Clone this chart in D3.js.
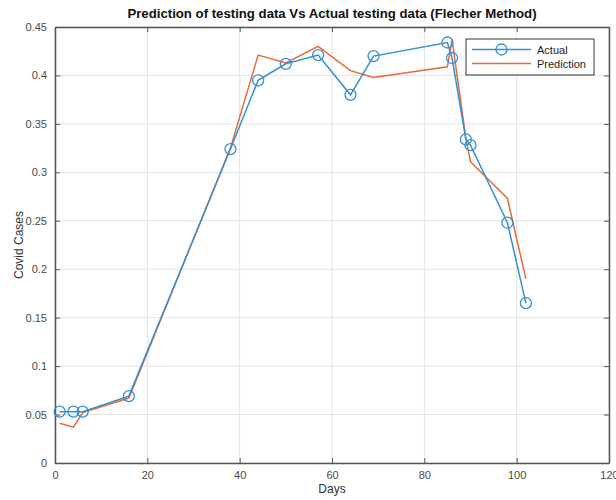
<!DOCTYPE html>
<html>
<head>
<meta charset="utf-8">
<script src="https://cdn.jsdelivr.net/npm/d3@7"></script>
<style>
  body { margin: 0; background: #fff; }
  svg { font-family: "Liberation Sans", Arial, Helvetica, sans-serif; }
  .grid line { stroke: #e3e3e3; stroke-width: 1; }
  .axis text { fill: #4a4a4a; font-size: 11px; }
  .axis path, .axis line { stroke: #555; }
</style>
</head>
<body>
<div id="chart"></div>
<script>
// data
const days = [1, 4, 6, 16, 38, 44, 50, 57, 64, 69, 85, 86, 89, 90, 98, 102];
const actual = [0.053, 0.053, 0.053, 0.069, 0.324, 0.395, 0.412, 0.421, 0.380, 0.420, 0.434, 0.418, 0.334, 0.328, 0.248, 0.165];
const prediction = [0.041, 0.037, 0.052, 0.067, 0.325, 0.421, 0.413, 0.430, 0.405, 0.398, 0.409, 0.437, 0.335, 0.311, 0.273, 0.190];
const xTicks = [0, 20, 40, 60, 80, 100, 120];
const yTicks = [0, 0.05, 0.1, 0.15, 0.2, 0.25, 0.3, 0.35, 0.4, 0.45];

const blue = "#3590d3", orange = "#e8693a";

const W = 616, H = 500;
const margin = { top: 27, right: 7, bottom: 37, left: 55 };
const width = W - margin.left - margin.right;
const height = H - margin.top - margin.bottom;

const svg = d3.select("#chart").append("svg")
    .attr("width", W)
    .attr("height", H);

const g = svg.append("g")
    .attr("transform", `translate(${margin.left},${margin.top})`);

const x = d3.scaleLinear().domain([0, 120]).range([0, width]);
const y = d3.scaleLinear().domain([0, 0.45]).range([height, 0]);

// Grid
g.append("g").attr("class", "grid")
    .selectAll("line.v").data(xTicks).join("line")
    .attr("x1", d => x(d)).attr("x2", d => x(d))
    .attr("y1", 0).attr("y2", height);
g.append("g").attr("class", "grid")
    .selectAll("line.h").data(yTicks).join("line")
    .attr("x1", 0).attr("x2", width)
    .attr("y1", d => y(d)).attr("y2", d => y(d));

const fmtY = d => d === 0 ? "0" : String(+d.toFixed(2));

// Axes (ticks inward, box on)
g.append("g").attr("class", "axis")
    .attr("transform", `translate(0,${height})`)
    .call(d3.axisBottom(x).tickValues(xTicks).tickSizeInner(-5).tickSizeOuter(0).tickPadding(8))
    .call(a => a.selectAll("text").attr("dy", "0.7em"));
g.append("g").attr("class", "axis")
    .call(d3.axisLeft(y).tickValues(yTicks).tickFormat(fmtY).tickSizeInner(-5).tickSizeOuter(0).tickPadding(8));
g.append("g").attr("class", "axis")
    .call(d3.axisTop(x).tickValues(xTicks).tickSizeInner(-5).tickSizeOuter(0).tickFormat(""));
g.append("g").attr("class", "axis")
    .attr("transform", `translate(${width},0)`)
    .call(d3.axisRight(y).tickValues(yTicks).tickSizeInner(-5).tickSizeOuter(0).tickFormat(""));
g.selectAll(".axis path").attr("stroke-width", 1.5).attr("stroke", "#555");

const line = d3.line().x(d => x(d[0])).y(d => y(d[1]));

// Prediction
g.append("path")
    .datum(days.map((d, i) => [d, prediction[i]]))
    .attr("fill", "none")
    .attr("stroke", orange)
    .attr("stroke-width", 1.5)
    .attr("d", line);

// Actual
const actData = days.map((d, i) => [d, actual[i]]);
g.append("path")
    .datum(actData)
    .attr("fill", "none")
    .attr("stroke", blue)
    .attr("stroke-width", 1.5)
    .attr("d", line);
g.selectAll("circle.act").data(actData).join("circle")
    .attr("class", "act")
    .attr("cx", d => x(d[0]))
    .attr("cy", d => y(d[1]))
    .attr("r", 5.5)
    .attr("fill", "none")
    .attr("stroke", blue)
    .attr("stroke-width", 1.3);

// Title and labels
svg.append("text")
    .attr("x", margin.left + width / 2)
    .attr("y", 18)
    .attr("text-anchor", "middle")
    .attr("font-size", 13.2)
    .attr("font-weight", "bold")
    .attr("fill", "#111")
    .text("Prediction of testing data Vs Actual testing data (Flecher Method)");

svg.append("text")
    .attr("x", margin.left + width / 2)
    .attr("y", 493)
    .attr("text-anchor", "middle")
    .attr("font-size", 12)
    .attr("fill", "#333")
    .text("Days");

svg.append("text")
    .attr("transform", `translate(23,${margin.top + height / 2}) rotate(-90)`)
    .attr("text-anchor", "middle")
    .attr("font-size", 12)
    .attr("fill", "#333")
    .text("Covid Cases");

// Legend
const lg = svg.append("g").attr("transform", "translate(466,39)");
lg.append("rect")
    .attr("width", 128).attr("height", 36)
    .attr("fill", "#fff").attr("stroke", "#333").attr("stroke-width", 1);
lg.append("line").attr("x1", 6).attr("x2", 65).attr("y1", 10.5).attr("y2", 10.5)
    .attr("stroke", blue).attr("stroke-width", 1.5);
lg.append("circle").attr("cx", 35.5).attr("cy", 10.5).attr("r", 5.5)
    .attr("fill", "none").attr("stroke", blue).attr("stroke-width", 1.3);
lg.append("line").attr("x1", 6).attr("x2", 65).attr("y1", 24.5).attr("y2", 24.5)
    .attr("stroke", orange).attr("stroke-width", 1.5);
lg.append("text").attr("x", 71).attr("y", 14.5).attr("font-size", 11).attr("fill", "#222").text("Actual");
lg.append("text").attr("x", 71).attr("y", 28.5).attr("font-size", 11).attr("fill", "#222").text("Prediction");
</script>
</body>
</html>
